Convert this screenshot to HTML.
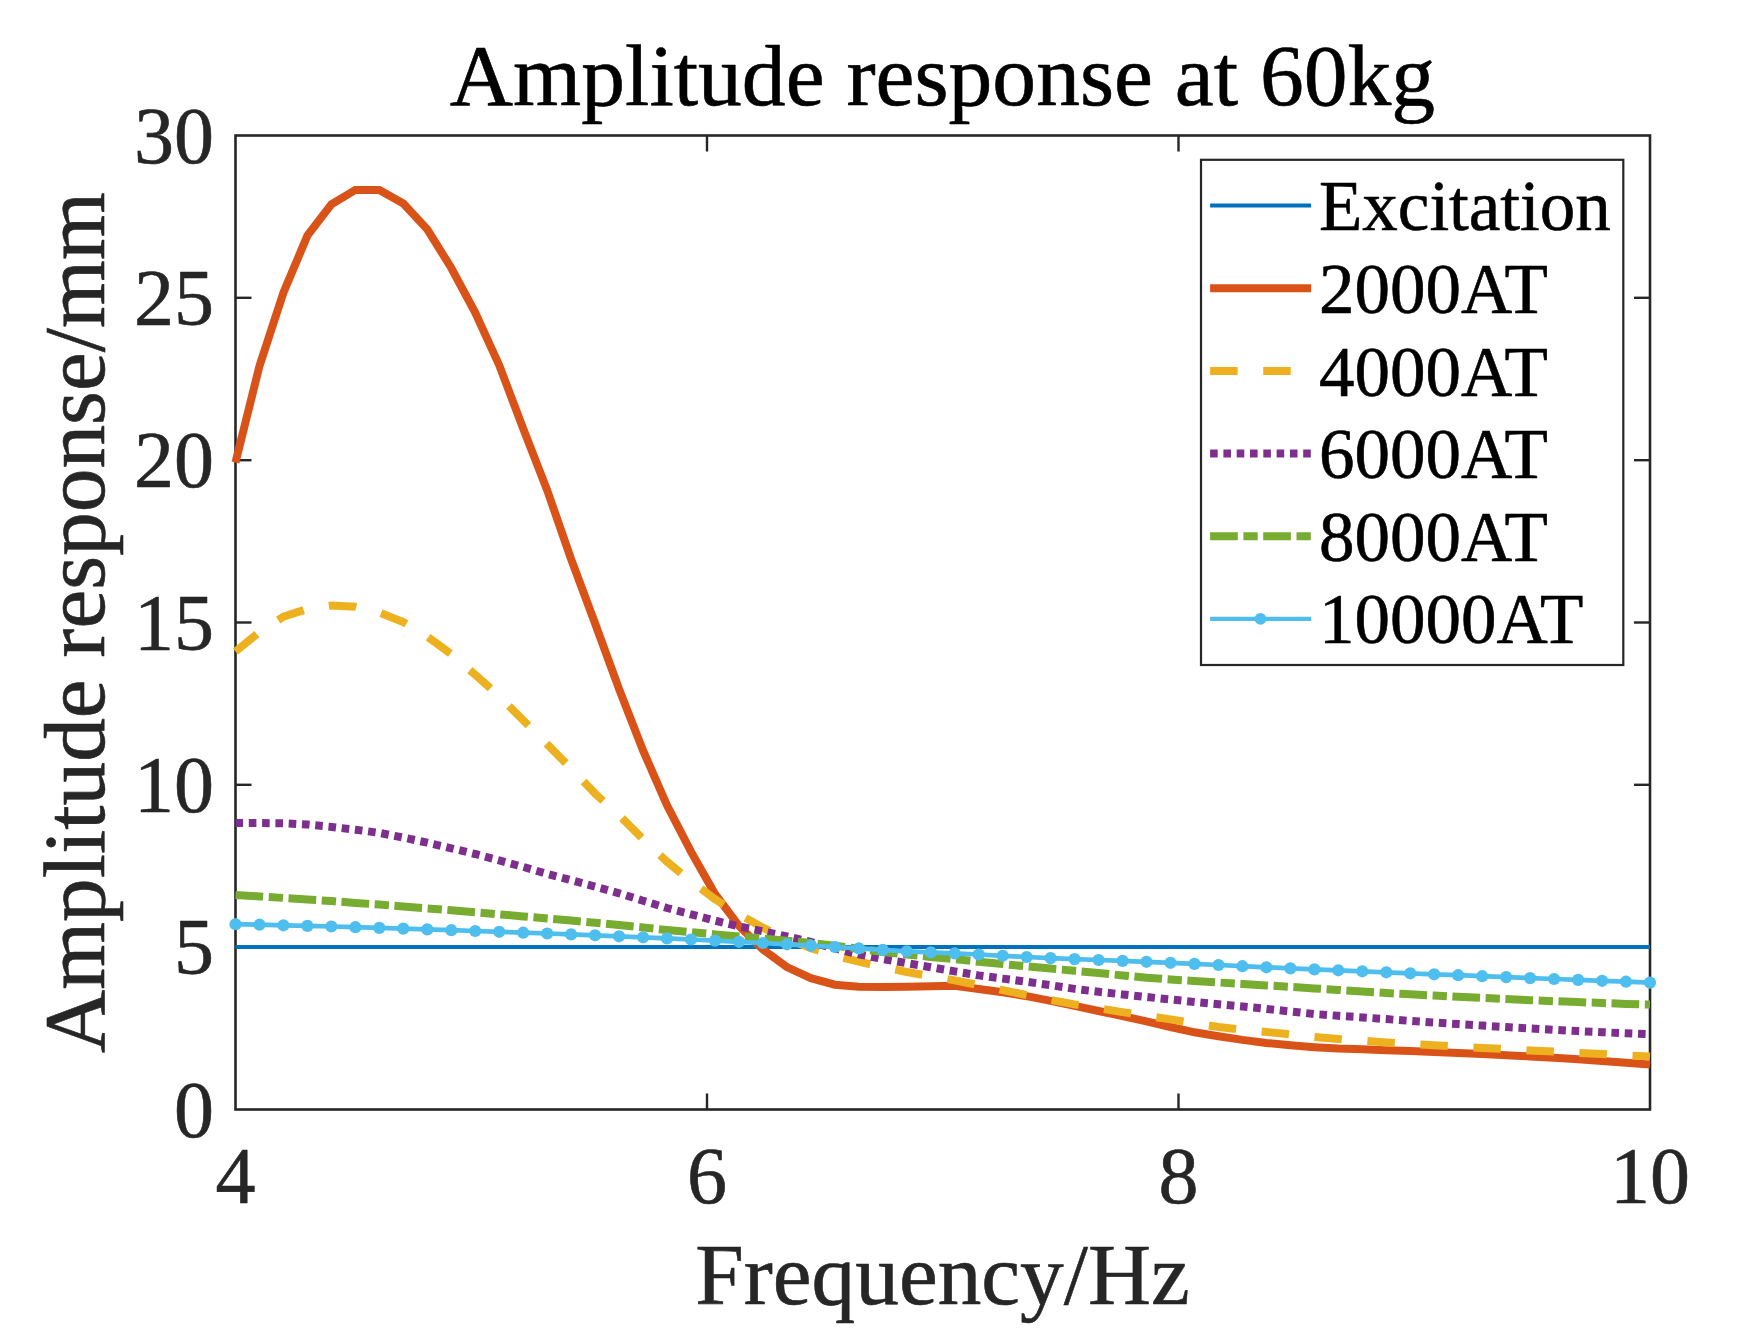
<!DOCTYPE html>
<html><head><meta charset="utf-8"><title>Amplitude response at 60kg</title>
<style>
html,body{margin:0;padding:0;background:#fff;overflow:hidden;}
svg{display:block;}
text{font-family:"Liberation Serif","Times New Roman",serif;stroke-linejoin:round;}
.tk{font-size:80px;fill:#262626;stroke:#262626;stroke-width:0.6;}
.lb{font-size:87.3px;fill:#262626;stroke:#262626;stroke-width:0.6;}
.ti{font-size:87.6px;fill:#000;stroke:#000;stroke-width:0.6;}
.lg{font-size:71px;fill:#000;stroke:#000;stroke-width:0.6;}
</style></head><body>
<svg width="1744" height="1343" viewBox="0 0 1744 1343">
<rect width="1744" height="1343" fill="#fff"/>
<g stroke="#262626" fill="none">
<rect x="235.5" y="135.5" width="1414.5" height="974.0" stroke-width="2.6"/>
<line x1="707.0" y1="1109.5" x2="707.0" y2="1093.5" stroke-width="2.4"/>
<line x1="707.0" y1="135.5" x2="707.0" y2="151.5" stroke-width="2.4"/>
<line x1="1178.5" y1="1109.5" x2="1178.5" y2="1093.5" stroke-width="2.4"/>
<line x1="1178.5" y1="135.5" x2="1178.5" y2="151.5" stroke-width="2.4"/>
<line x1="235.5" y1="947.2" x2="251.5" y2="947.2" stroke-width="2.4"/>
<line x1="1650.0" y1="947.2" x2="1634.0" y2="947.2" stroke-width="2.4"/>
<line x1="235.5" y1="784.8" x2="251.5" y2="784.8" stroke-width="2.4"/>
<line x1="1650.0" y1="784.8" x2="1634.0" y2="784.8" stroke-width="2.4"/>
<line x1="235.5" y1="622.5" x2="251.5" y2="622.5" stroke-width="2.4"/>
<line x1="1650.0" y1="622.5" x2="1634.0" y2="622.5" stroke-width="2.4"/>
<line x1="235.5" y1="460.2" x2="251.5" y2="460.2" stroke-width="2.4"/>
<line x1="1650.0" y1="460.2" x2="1634.0" y2="460.2" stroke-width="2.4"/>
<line x1="235.5" y1="297.8" x2="251.5" y2="297.8" stroke-width="2.4"/>
<line x1="1650.0" y1="297.8" x2="1634.0" y2="297.8" stroke-width="2.4"/>
</g>
<g fill="none" stroke-linejoin="miter" stroke-miterlimit="3">
<line x1="235.5" y1="947" x2="1650.0" y2="947" stroke="#0072BD" stroke-width="4.2"/>
<polyline points="235.5,462.5 259.5,365.9 283.4,292.7 307.4,235.6 331.4,204.4 355.4,189.9 379.3,189.9 403.3,203.5 427.3,229.4 451.3,268.0 475.2,312.6 499.2,365.2 523.2,428.6 547.2,490.3 571.1,559.1 595.1,623.5 619.1,689.2 643.1,750.6 667.0,805.4 691.0,851.6 715.0,894.0 739.0,925.9 762.9,949.5 786.9,967.0 810.9,978.2 834.9,984.7 858.8,986.8 882.8,987.1 906.8,986.7 930.8,986.2 954.7,985.8 978.7,989.0 1002.7,992.2 1026.7,996.2 1050.6,1000.9 1074.6,1005.8 1098.6,1011.0 1122.6,1016.2 1146.5,1021.3 1170.5,1027.0 1194.5,1032.3 1218.5,1036.3 1242.4,1039.9 1266.4,1042.9 1290.4,1045.3 1314.4,1047.2 1338.3,1048.6 1362.3,1049.3 1386.3,1050.3 1410.3,1051.1 1434.2,1051.9 1458.2,1052.9 1482.2,1054.0 1506.2,1055.2 1530.1,1056.4 1554.1,1057.8 1578.1,1059.3 1602.1,1061.0 1626.0,1062.7 1650.0,1064.6" stroke="#D95319" stroke-width="8.0"/>
<polyline points="235.5,651.5 259.5,632.0 283.4,616.7 307.4,608.9 331.4,605.5 355.4,606.7 379.3,612.5 403.3,622.1 427.3,636.6 451.3,654.1 475.2,674.7 499.2,696.2 523.2,720.3 547.2,744.4 571.1,768.5 595.1,793.6 619.1,815.2 643.1,839.2 667.0,861.7 691.0,881.4 715.0,899.1 739.0,914.2 762.9,927.7 786.9,938.5 810.9,948.3 834.9,955.7 858.8,961.7 882.8,967.1 906.8,972.0 930.8,976.3 954.7,980.4 978.7,985.1 1002.7,990.2 1026.7,995.0 1050.6,999.9 1074.6,1004.4 1098.6,1008.3 1122.6,1012.1 1146.5,1015.8 1170.5,1019.4 1194.5,1023.3 1218.5,1027.0 1242.4,1029.7 1266.4,1031.9 1290.4,1034.4 1314.4,1036.9 1338.3,1038.9 1362.3,1040.7 1386.3,1042.5 1410.3,1044.0 1434.2,1045.3 1458.2,1046.6 1482.2,1047.9 1506.2,1049.1 1530.1,1050.4 1554.1,1051.6 1578.1,1052.9 1602.1,1054.1 1626.0,1055.3 1650.0,1056.5" stroke="#EDB120" stroke-width="8.0" stroke-dasharray="27.5 25.6"/>
<polyline points="235.5,823.0 259.5,823.0 283.4,823.3 307.4,824.6 331.4,826.9 355.4,829.7 379.3,832.9 403.3,837.6 427.3,842.7 451.3,848.3 475.2,854.0 499.2,860.4 523.2,866.9 547.2,873.9 571.1,880.2 595.1,886.6 619.1,893.3 643.1,900.7 667.0,908.0 691.0,914.3 715.0,920.6 739.0,926.4 762.9,931.3 786.9,936.4 810.9,942.0 834.9,948.5 858.8,954.4 882.8,959.0 906.8,963.1 930.8,967.2 954.7,971.4 978.7,975.4 1002.7,978.6 1026.7,981.8 1050.6,985.2 1074.6,988.9 1098.6,991.8 1122.6,994.4 1146.5,997.0 1170.5,999.5 1194.5,1001.9 1218.5,1004.2 1242.4,1006.5 1266.4,1008.9 1290.4,1011.5 1314.4,1014.0 1338.3,1015.8 1362.3,1017.4 1386.3,1019.1 1410.3,1020.9 1434.2,1022.5 1458.2,1024.1 1482.2,1025.6 1506.2,1027.1 1530.1,1028.5 1554.1,1029.8 1578.1,1031.1 1602.1,1032.2 1626.0,1033.3 1650.0,1034.2" stroke="#7E2F8E" stroke-width="8.0" stroke-dasharray="7.6 5.7"/>
<polyline points="235.5,895.0 259.5,896.4 283.4,897.9 307.4,899.5 331.4,901.1 355.4,902.9 379.3,904.6 403.3,906.5 427.3,908.4 451.3,910.3 475.2,912.3 499.2,914.3 523.2,916.4 547.2,918.5 571.1,920.6 595.1,922.8 619.1,925.0 643.1,927.5 667.0,930.0 691.0,932.2 715.0,934.4 739.0,936.5 762.9,938.7 786.9,940.8 810.9,943.0 834.9,945.6 858.8,948.8 882.8,952.0 906.8,954.5 930.8,956.9 954.7,959.2 978.7,961.7 1002.7,964.1 1026.7,966.4 1050.6,968.6 1074.6,970.8 1098.6,973.0 1122.6,975.4 1146.5,977.7 1170.5,979.5 1194.5,981.0 1218.5,982.5 1242.4,983.9 1266.4,985.4 1290.4,986.9 1314.4,988.4 1338.3,989.9 1362.3,991.5 1386.3,993.0 1410.3,994.3 1434.2,995.5 1458.2,996.8 1482.2,997.9 1506.2,999.1 1530.1,1000.2 1554.1,1001.2 1578.1,1002.1 1602.1,1003.0 1626.0,1003.9 1650.0,1004.6" stroke="#77AC30" stroke-width="8.0" stroke-dasharray="27.7 5.6 14.3 5.5"/>
<polyline points="235.5,924.2 259.5,924.7 283.4,925.3 307.4,925.9 331.4,926.5 355.4,927.2 379.3,927.9 403.3,928.6 427.3,929.4 451.3,930.2 475.2,931.0 499.2,931.8 523.2,932.7 547.2,933.5 571.1,934.4 595.1,935.3 619.1,936.3 643.1,937.3 667.0,938.4 691.0,939.5 715.0,940.6 739.0,941.8 762.9,943.0 786.9,944.3 810.9,945.6 834.9,947.0 858.8,948.4 882.8,949.9 906.8,951.3 930.8,952.4 954.7,953.4 978.7,954.5 1002.7,955.8 1026.7,957.0 1050.6,958.1 1074.6,959.1 1098.6,960.0 1122.6,960.9 1146.5,961.8 1170.5,962.8 1194.5,963.9 1218.5,965.0 1242.4,966.2 1266.4,967.3 1290.4,968.4 1314.4,969.4 1338.3,970.3 1362.3,971.3 1386.3,972.3 1410.3,973.3 1434.2,974.3 1458.2,975.2 1482.2,976.2 1506.2,977.1 1530.1,978.1 1554.1,979.0 1578.1,979.9 1602.1,980.8 1626.0,981.7 1650.0,982.6" stroke="#4DBEEE" stroke-width="4.7"/>
</g>
<g fill="#4DBEEE">
<circle cx="235.5" cy="924.2" r="6.1"/>
<circle cx="259.5" cy="924.7" r="6.1"/>
<circle cx="283.4" cy="925.3" r="6.1"/>
<circle cx="307.4" cy="925.9" r="6.1"/>
<circle cx="331.4" cy="926.5" r="6.1"/>
<circle cx="355.4" cy="927.2" r="6.1"/>
<circle cx="379.3" cy="927.9" r="6.1"/>
<circle cx="403.3" cy="928.6" r="6.1"/>
<circle cx="427.3" cy="929.4" r="6.1"/>
<circle cx="451.3" cy="930.2" r="6.1"/>
<circle cx="475.2" cy="931.0" r="6.1"/>
<circle cx="499.2" cy="931.8" r="6.1"/>
<circle cx="523.2" cy="932.7" r="6.1"/>
<circle cx="547.2" cy="933.5" r="6.1"/>
<circle cx="571.1" cy="934.4" r="6.1"/>
<circle cx="595.1" cy="935.3" r="6.1"/>
<circle cx="619.1" cy="936.3" r="6.1"/>
<circle cx="643.1" cy="937.3" r="6.1"/>
<circle cx="667.0" cy="938.4" r="6.1"/>
<circle cx="691.0" cy="939.5" r="6.1"/>
<circle cx="715.0" cy="940.6" r="6.1"/>
<circle cx="739.0" cy="941.8" r="6.1"/>
<circle cx="762.9" cy="943.0" r="6.1"/>
<circle cx="786.9" cy="944.3" r="6.1"/>
<circle cx="810.9" cy="945.6" r="6.1"/>
<circle cx="834.9" cy="947.0" r="6.1"/>
<circle cx="858.8" cy="948.4" r="6.1"/>
<circle cx="882.8" cy="949.9" r="6.1"/>
<circle cx="906.8" cy="951.3" r="6.1"/>
<circle cx="930.8" cy="952.4" r="6.1"/>
<circle cx="954.7" cy="953.4" r="6.1"/>
<circle cx="978.7" cy="954.5" r="6.1"/>
<circle cx="1002.7" cy="955.8" r="6.1"/>
<circle cx="1026.7" cy="957.0" r="6.1"/>
<circle cx="1050.6" cy="958.1" r="6.1"/>
<circle cx="1074.6" cy="959.1" r="6.1"/>
<circle cx="1098.6" cy="960.0" r="6.1"/>
<circle cx="1122.6" cy="960.9" r="6.1"/>
<circle cx="1146.5" cy="961.8" r="6.1"/>
<circle cx="1170.5" cy="962.8" r="6.1"/>
<circle cx="1194.5" cy="963.9" r="6.1"/>
<circle cx="1218.5" cy="965.0" r="6.1"/>
<circle cx="1242.4" cy="966.2" r="6.1"/>
<circle cx="1266.4" cy="967.3" r="6.1"/>
<circle cx="1290.4" cy="968.4" r="6.1"/>
<circle cx="1314.4" cy="969.4" r="6.1"/>
<circle cx="1338.3" cy="970.3" r="6.1"/>
<circle cx="1362.3" cy="971.3" r="6.1"/>
<circle cx="1386.3" cy="972.3" r="6.1"/>
<circle cx="1410.3" cy="973.3" r="6.1"/>
<circle cx="1434.2" cy="974.3" r="6.1"/>
<circle cx="1458.2" cy="975.2" r="6.1"/>
<circle cx="1482.2" cy="976.2" r="6.1"/>
<circle cx="1506.2" cy="977.1" r="6.1"/>
<circle cx="1530.1" cy="978.1" r="6.1"/>
<circle cx="1554.1" cy="979.0" r="6.1"/>
<circle cx="1578.1" cy="979.9" r="6.1"/>
<circle cx="1602.1" cy="980.8" r="6.1"/>
<circle cx="1626.0" cy="981.7" r="6.1"/>
<circle cx="1650.0" cy="982.6" r="6.1"/>
</g>
<text class="tk" x="235.5" y="1203.4" text-anchor="middle">4</text>
<text class="tk" x="707.0" y="1203.4" text-anchor="middle">6</text>
<text class="tk" x="1178.5" y="1203.4" text-anchor="middle">8</text>
<text class="tk" x="1650.0" y="1203.4" text-anchor="middle">10</text>
<text class="tk" x="214" y="1136.5" text-anchor="end">0</text>
<text class="tk" x="214" y="974.2" text-anchor="end">5</text>
<text class="tk" x="214" y="811.8" text-anchor="end">10</text>
<text class="tk" x="214" y="649.5" text-anchor="end">15</text>
<text class="tk" x="214" y="487.2" text-anchor="end">20</text>
<text class="tk" x="214" y="324.8" text-anchor="end">25</text>
<text class="tk" x="214" y="162.5" text-anchor="end">30</text>
<text class="ti" x="942.5" y="104.8" text-anchor="middle">Amplitude response at 60kg</text>
<text class="lb" x="942.5" y="1303.6" text-anchor="middle">Frequency/Hz</text>
<text class="lb" transform="translate(104,622.5) rotate(-90)" text-anchor="middle">Amplitude response/mm</text>
<rect x="1201" y="159.8" width="422.3" height="505.2" fill="#fff" stroke="#262626" stroke-width="2.2"/>
<line x1="1210.1" y1="205.5" x2="1311.1" y2="205.5" stroke="#0072BD" stroke-width="4.2"/>
<text class="lg" x="1319" y="230.0">Excitation</text>
<line x1="1210.1" y1="288.3" x2="1311.1" y2="288.3" stroke="#D95319" stroke-width="8.0"/>
<text class="lg" x="1319" y="312.8">2000AT</text>
<line x1="1210.1" y1="371.0" x2="1311.1" y2="371.0" stroke="#EDB120" stroke-width="8.0" stroke-dasharray="27.5 25.6"/>
<text class="lg" x="1319" y="395.5">4000AT</text>
<line x1="1210.1" y1="453.6" x2="1311.1" y2="453.6" stroke="#7E2F8E" stroke-width="8.0" stroke-dasharray="7.6 5.7"/>
<text class="lg" x="1319" y="478.1">6000AT</text>
<line x1="1210.1" y1="536.2" x2="1311.1" y2="536.2" stroke="#77AC30" stroke-width="8.0" stroke-dasharray="27.7 5.6 14.3 5.5"/>
<text class="lg" x="1319" y="560.7">8000AT</text>
<line x1="1210.1" y1="618.8" x2="1311.1" y2="618.8" stroke="#4DBEEE" stroke-width="4.2"/>
<text class="lg" x="1319" y="643.3">10000AT</text>
<circle cx="1260.5" cy="618.8" r="5.9" fill="#4DBEEE"/>
</svg></body></html>
